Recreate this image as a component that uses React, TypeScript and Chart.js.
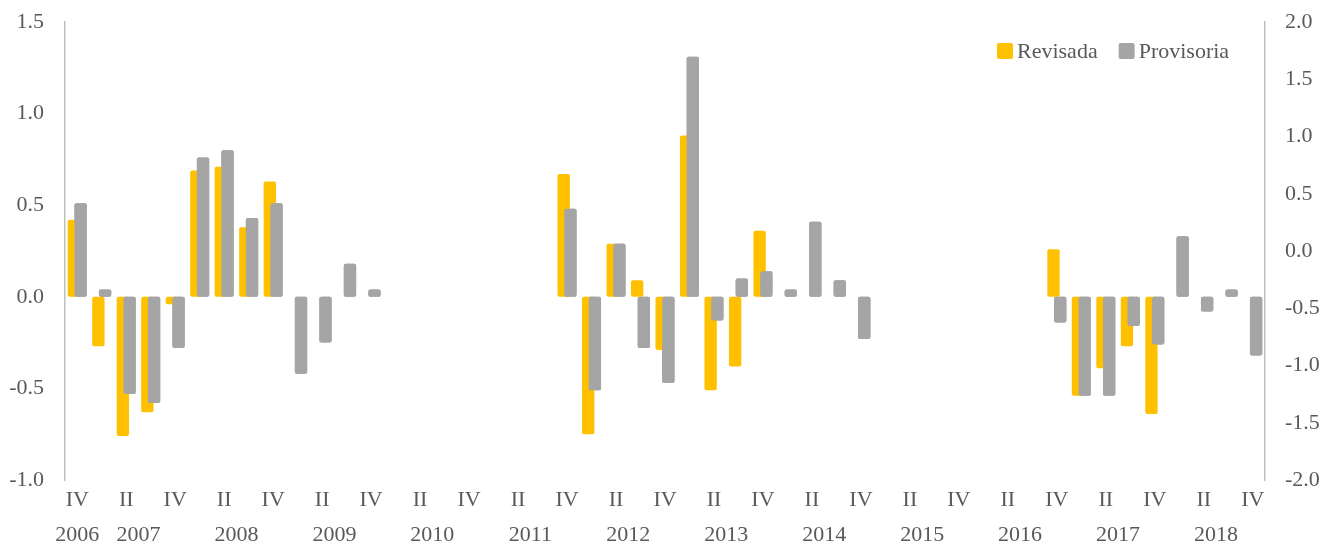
import React, { useEffect, useRef } from 'react';
import { Chart, registerables } from 'chart.js';

Chart.register(...registerables);

// ---- Data ----
const yearLabels = ['2006', '2007', '2008', '2009', '2010', '2011', '2012', '2013', '2014', '2015', '2016', '2017', '2018'];
const quartersFirstYear = ['IV'];
const quartersFullYear = ['I', 'II', 'III', 'IV'];
const shownQuarters = ['II', 'IV'];

const revisada: (number | null)[] = [
  0.42,
  -0.27, -0.76, -0.63, -0.04,
  0.69, 0.71, 0.38, 0.63,
  null, null, null, null,
  null, null, null, null,
  null, null, null, 0.67,
  -0.75, 0.29, 0.09, -0.29,
  0.88, -0.51, -0.38, 0.36,
  null, null, null, null,
  null, null, null, null,
  null, null, null, 0.26,
  -0.54, -0.39, -0.27, -0.64,
  null, null, null, null,
];

const provisoria: (number | null)[] = [
  0.51,
  0.04, -0.53, -0.58, -0.28,
  0.76, 0.80, 0.43, 0.51,
  -0.42, -0.25, 0.18, 0.04,
  null, null, null, null,
  null, null, null, 0.48,
  -0.51, 0.29, -0.28, -0.47,
  1.31, -0.13, 0.10, 0.14,
  0.04, 0.41, 0.09, -0.23,
  null, null, null, null,
  null, null, null, -0.14,
  -0.54, -0.54, -0.16, -0.26,
  0.33, -0.08, 0.04, -0.32,
];

const leftTicks = { min: -1.0, max: 1.5, step: 0.5 };
const rightTicks = { min: -2.0, max: 2.0, step: 0.5 };

// ---- Styling ----
const FONT = "'Liberation Serif', 'Times New Roman', serif";
const FONT_SIZE = 22;
const TEXT_COLOR = '#595959';
const YELLOW = '#FFC000';
const GRAY = '#A5A5A5';
const AXIS_COLOR = '#BFBFBF';

// Build categories from quarter lists
const yearQuarterLists = yearLabels.map((_, i) => (i === 0 ? quartersFirstYear : quartersFullYear));
const categories: string[] = yearQuarterLists.flat();

// Redraw the second (grey) series on top of the first so it overlaps like the reference
const overlapPlugin = {
  id: 'overlapOrder',
  afterDatasetsDraw(chart: any) {
    const meta = chart.getDatasetMeta(1);
    if (meta && meta.controller) {
      const ctx = chart.ctx;
      const area = chart.chartArea;
      ctx.save();
      ctx.beginPath();
      ctx.rect(area.left, area.top - 2, area.right - area.left, area.bottom - area.top + 4);
      ctx.clip();
      meta.controller.draw();
      ctx.restore();
    }
  },
};

const yearAxisPlugin = {
  id: 'yearAxis',
  afterDraw(chart: any) {
    const xs = chart.scales.x;
    const ctx = chart.ctx;
    ctx.save();
    ctx.font = `${FONT_SIZE}px ${FONT}`;
    ctx.fillStyle = TEXT_COLOR;
    ctx.textAlign = 'center';
    ctx.textBaseline = 'middle';
    let idx = 0;
    yearLabels.forEach((yr, i) => {
      const n = yearQuarterLists[i].length;
      const a = xs.getPixelForValue(idx);
      const b = xs.getPixelForValue(idx + n - 1);
      ctx.fillText(yr, (a + b) / 2, chart.chartArea.bottom + 55);
      idx += n;
    });
    ctx.restore();
  },
};

const legendPlugin = {
  id: 'insideLegend',
  afterDraw(chart: any) {
    const ctx = chart.ctx;
    const area = chart.chartArea;
    ctx.save();
    ctx.font = `${FONT_SIZE}px ${FONT}`;
    ctx.textBaseline = 'middle';
    ctx.textAlign = 'left';
    let x = area.right - 268;
    const yc = area.top + 29;
    const box = 16;
    chart.data.datasets.forEach((ds: any) => {
      ctx.fillStyle = ds.backgroundColor;
      ctx.beginPath();
      (ctx as any).roundRect(x, yc - box / 2, box, box, 2);
      ctx.fill();
      x += box + 4;
      ctx.fillStyle = TEXT_COLOR;
      ctx.fillText(ds.label, x, yc + 1);
      x += ctx.measureText(ds.label).width + 21;
    });
    ctx.restore();
  },
};

export default function App() {
  const canvasRef = useRef<HTMLCanvasElement | null>(null);

  useEffect(() => {
    document.body.style.margin = '0';
    const canvas = canvasRef.current;
    if (!canvas) return;
    Chart.defaults.font.family = FONT;
    Chart.defaults.font.size = FONT_SIZE;
    Chart.defaults.color = TEXT_COLOR;

    const chart = new Chart(canvas, {
      type: 'bar',
      data: {
        labels: categories,
        datasets: [
          {
            label: 'Revisada',
            data: revisada,
            backgroundColor: YELLOW,
            borderRadius: 2,
            borderSkipped: false,
            categoryPercentage: 0.547,
            barPercentage: 1.84,
            yAxisID: 'y',
          },
          {
            label: 'Provisoria',
            data: provisoria,
            backgroundColor: GRAY,
            borderRadius: 2,
            borderSkipped: false,
            categoryPercentage: 0.547,
            barPercentage: 1.84,
            yAxisID: 'y',
          },
        ],
      },
      options: {
        responsive: false,
        animation: false,
        devicePixelRatio: 1,
        layout: { padding: { top: 22, left: 0, right: 0, bottom: 0 } },
        plugins: {
          legend: { display: false },
          tooltip: { enabled: false },
        },
        scales: {
          x: {
            grid: { display: false, drawTicks: false },
            border: { display: false },
            ticks: {
              autoSkip: false,
              maxRotation: 0,
              minRotation: 0,
              padding: 7,
              callback: (_v: any, i: number) => (shownQuarters.includes(categories[i]) ? categories[i] : ''),
            },
            afterFit: (s: any) => {
              s.height = 65;
            },
          },
          y: {
            position: 'left',
            min: leftTicks.min,
            max: leftTicks.max,
            grid: { display: false, drawTicks: true, tickLength: 21 },
            border: { display: true, color: AXIS_COLOR, width: 1.5 },
            ticks: {
              stepSize: leftTicks.step,
              padding: 0,
              callback: (v: any) => Number(v).toFixed(1),
            },
            afterFit: (s: any) => {
              s.width = 65;
            },
          },
          y2: {
            position: 'right',
            min: rightTicks.min,
            max: rightTicks.max,
            grid: { display: false, drawTicks: true, tickLength: 20 },
            border: { display: true, color: AXIS_COLOR, width: 1.5 },
            ticks: {
              stepSize: rightTicks.step,
              padding: 0,
              callback: (v: any) => Number(v).toFixed(1),
            },
            afterFit: (s: any) => {
              s.width = 58;
            },
          },
        },
      },
      plugins: [overlapPlugin, yearAxisPlugin, legendPlugin],
    });
    return () => chart.destroy();
  }, []);

  return (
    <div style={{ width: 1323, height: 545 }}>
      <canvas ref={canvasRef} width={1323} height={545} />
    </div>
  );
}
